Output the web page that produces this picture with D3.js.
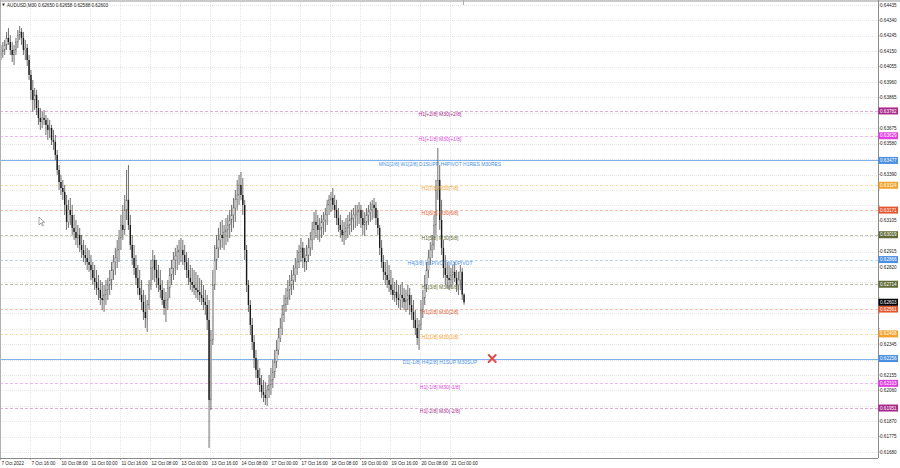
<!DOCTYPE html>
<html><head><meta charset="utf-8">
<script src="https://cdn.jsdelivr.net/npm/d3@7"></script>
<style>html,body{margin:0;padding:0;background:#fff;overflow:hidden}</style>
</head><body><svg id="c" width="900" height="468"></svg>
<script>
// ---------------- DATA ----------------
const symbolTitle = "AUDUSD,M30  0.62650 0.62658 0.62588 0.62603";
const firstOpen = 0.64127;
// hourly candles (2 x M30 bars each), 7 Oct 2022 .. 21 Oct 2022
const highs = [
.64189,.64207,.64219,.64269,.64293,.64250,.64207,.64189,.64232,.64281,.64306,.64293,.64269,.64219,.64195,.64127,.64035,.63973,.63924,.63911,.63850,.63800,.63776,.63788,
.63757,.63739,.63726,.63696,.63665,.63634,.63542,.63449,.63388,.63357,.63326,.63264,.63234,.63246,.63203,.63141,.63110,.63079,.63061,.63018,.62987,.62956,.62938,.62925,
.62894,.62851,.62833,.62802,.62771,.62740,.62728,.62710,.62740,.62753,.62802,.62851,.62894,.62938,.62987,.63049,.63141,.63203,.63264,.63418,.63449,.63141,.63018,.62956,
.62894,.62833,.62802,.62740,.62679,.62648,.62617,.62740,.62864,.62925,.62894,.62864,.62833,.62802,.62740,.62691,.62666,.62740,.62814,.62864,.62913,.62938,.62956,.62987,
.62999,.62987,.62956,.62913,.62876,.62833,.62814,.62802,.62790,.62771,.62753,.62740,.62710,.62679,.62648,.62617,.62432,.62802,.62956,.63018,.63061,.63098,.63110,.63079,
.63122,.63141,.63172,.63203,.63246,.63295,.63357,.63388,.63406,.63369,.63234,.62956,.62740,.62617,.62506,.62401,.62309,.62247,.62198,.62155,.62124,.62112,.62093,.62155,
.62198,.62247,.62309,.62370,.62444,.62506,.62586,.62648,.62691,.62740,.62771,.62802,.62833,.62876,.62925,.62956,.62999,.62975,.62938,.62956,.62999,.63036,.63098,.63159,
.63172,.63141,.63122,.63141,.63159,.63184,.63234,.63264,.63283,.63307,.63264,.63234,.63184,.63141,.63110,.63098,.63122,.63141,.63159,.63172,.63184,.63203,.63203,.63221,
.63203,.63172,.63159,.63184,.63203,.63221,.63234,.63246,.63221,.63172,.63079,.62987,.62894,.62851,.62864,.62833,.62802,.62753,.62728,.62740,.62710,.62710,.62728,.62691,
.62679,.62710,.62691,.62648,.62617,.62555,.62506,.62494,.62617,.62679,.62771,.62851,.62925,.62975,.63018,.63141,.63357,.63554,.63449,.63234,.62987,.62894,.62851,.62833,
.62814,.62833,.62851,.62802,.62790,.62833,.62814,.62658];
const lows = [
.64096,.64109,.64127,.64158,.64189,.64127,.64084,.64065,.64127,.64170,.64219,.64189,.64127,.64096,.64059,.63973,.63850,.63776,.63788,.63757,.63696,.63665,.63677,.63696,
.63634,.63603,.63616,.63572,.63542,.63480,.63388,.63295,.63264,.63234,.63141,.63049,.63061,.63079,.63018,.62987,.62956,.62938,.62913,.62876,.62851,.62833,.62802,.62790,
.62740,.62710,.62679,.62648,.62617,.62586,.62555,.62543,.62586,.62617,.62648,.62679,.62740,.62771,.62814,.62851,.62925,.62987,.63018,.63110,.63049,.62925,.62833,.62771,
.62710,.62648,.62617,.62555,.62494,.62444,.62420,.62555,.62679,.62740,.62728,.62691,.62666,.62629,.62586,.62525,.62481,.62555,.62629,.62710,.62740,.62771,.62802,.62833,
.62851,.62833,.62802,.62753,.62710,.62679,.62666,.62648,.62629,.62617,.62605,.62586,.62555,.62525,.62432,.61705,.61939,.62340,.62679,.62802,.62876,.62925,.62938,.62925,
.62956,.62975,.62999,.63036,.63061,.63098,.63172,.63203,.63234,.63141,.62864,.62666,.62543,.62401,.62309,.62198,.62136,.62093,.62050,.62013,.61988,.61970,.61964,.62013,
.62032,.62074,.62136,.62198,.62278,.62358,.62401,.62481,.62543,.62586,.62617,.62648,.62679,.62728,.62771,.62814,.62851,.62814,.62790,.62802,.62851,.62888,.62925,.62987,
.62999,.62987,.62975,.62999,.63018,.63036,.63079,.63141,.63159,.63172,.63122,.63079,.63036,.62999,.62975,.62956,.62987,.62999,.63018,.63036,.63049,.63061,.63073,.63085,
.63061,.63018,.63011,.63049,.63079,.63098,.63110,.63122,.63079,.63018,.62894,.62814,.62740,.62710,.62691,.62666,.62648,.62617,.62605,.62586,.62568,.62555,.62568,.62555,
.62543,.62555,.62525,.62494,.62444,.62401,.62340,.62309,.62432,.62506,.62586,.62666,.62753,.62833,.62876,.62925,.63018,.63234,.63049,.62894,.62753,.62710,.62691,.62679,
.62691,.62710,.62728,.62666,.62648,.62679,.62617,.62588];
const closes = [
.64146,.64158,.64189,.64232,.64207,.64158,.64127,.64158,.64207,.64250,.64269,.64232,.64158,.64170,.64096,.64004,.63911,.63850,.63881,.63800,.63739,.63714,.63739,.63726,
.63696,.63665,.63677,.63603,.63591,.63511,.63418,.63344,.63307,.63283,.63203,.63098,.63172,.63141,.63061,.63036,.62999,.63018,.62956,.62925,.62894,.62876,.62851,.62833,
.62802,.62753,.62728,.62691,.62679,.62629,.62617,.62648,.62679,.62710,.62740,.62802,.62851,.62876,.62925,.62999,.63079,.63049,.63172,.63234,.63079,.62956,.62876,.62814,
.62753,.62691,.62648,.62605,.62543,.62506,.62586,.62710,.62814,.62864,.62802,.62753,.62710,.62679,.62617,.62568,.62617,.62691,.62771,.62814,.62864,.62888,.62913,.62925,
.62925,.62894,.62851,.62802,.62753,.62728,.62710,.62691,.62679,.62666,.62648,.62629,.62605,.62586,.62494,.62001,.62370,.62710,.62864,.62938,.62987,.63018,.62999,.63036,
.63049,.63079,.63110,.63141,.63184,.63234,.63264,.63326,.63264,.63203,.62925,.62710,.62586,.62463,.62358,.62260,.62186,.62136,.62093,.62050,.62032,.62013,.62062,.62093,
.62124,.62173,.62235,.62309,.62383,.62444,.62525,.62586,.62629,.62679,.62710,.62740,.62771,.62814,.62851,.62913,.62938,.62876,.62851,.62894,.62938,.62987,.63049,.63098,
.63079,.63049,.63061,.63098,.63110,.63141,.63203,.63234,.63246,.63203,.63172,.63122,.63079,.63049,.63018,.63036,.63061,.63079,.63110,.63122,.63141,.63141,.63159,.63172,
.63122,.63079,.63098,.63141,.63159,.63172,.63203,.63184,.63122,.63061,.62938,.62851,.62790,.62771,.62740,.62710,.62679,.62648,.62666,.62629,.62617,.62648,.62629,.62605,
.62617,.62648,.62586,.62543,.62494,.62444,.62383,.62463,.62555,.62629,.62710,.62802,.62876,.62925,.62956,.63079,.63295,.63357,.63110,.62938,.62814,.62771,.62753,.62740,
.62771,.62790,.62753,.62710,.62740,.62790,.62650,.62603];

const timeLabels = ["7 Oct 2022","7 Oct 16:00","10 Oct 08:00","11 Oct 00:00","11 Oct 16:00","12 Oct 08:00",
  "13 Oct 00:00","13 Oct 16:00","14 Oct 08:00","17 Oct 00:00","17 Oct 16:00","18 Oct 08:00",
  "19 Oct 00:00","19 Oct 16:00","20 Oct 08:00","21 Oct 00:00"];
const timeLabelBars = [0,32,64,96,128,160,192,224,256,288,320,352,384,416,448,480]; // M30 bar index

const priceTicks = ["0.64435","0.64340","0.64245","0.64150","0.64055","0.63960","0.63865","0.63770","0.63675",
  "0.63580","0.63485","0.63390","0.63295","0.63200","0.63105","0.63010","0.62915","0.62820","0.62725","0.62630",
  "0.62535","0.62440","0.62345","0.62250","0.62155","0.62060","0.61965","0.61870","0.61775","0.61680"];

const levelValues = [0.63782,0.63629,0.63477,0.63324,0.63171,0.63019,0.62866,0.62714,0.62561,0.62408,0.62256,0.62103,0.61951];
const levelNames = ["H1[+2/8] M30[+2/8]","H1[+1/8] M30[+1/8]","MN1[2/8] W1[2/8] D1SUPP H4PIVOT H1RES M30RES",
  "H1[7/8] M30[7/8]","H1[6/8] M30[6/8]","H1[5/8] M30[5/8]","H4[3/8] H1PIVOT M30PIVOT","H1[3/8] M30[3/8]",
  "H1[2/8] M30[2/8]","H1[1/8] M30[1/8]","D1[-1/8] H4[2/8] H1SUP M30SUP","H1[-1/8] M30[-1/8]","H1[-2/8] M30[-2/8]"];
const lastPrice = 0.62603;
const markerBar = 525, markerPrice = 0.62256;

// ---------------- STYLE ----------------
const levelColors = ["#a8288c","#e040e0","#4a90e2","#f2a22a","#e4572e","#5f6b34","#4a90e2","#5f6b34","#e4572e","#f2a22a","#4a90e2","#e040e0","#a8288c"];
const levelDash = [ "3,2","3,2",null,"3,2","3,2","3,2","3,2","3,2","3,2","3,2",null,"3,2","3,2"];

const W = 900, H = 468, plotR = 878, plotB = 458;
const svg = d3.select("#c");
const x = d3.scaleLinear().domain([0, 960]).range([0, 900]);
const y = d3.scaleLinear().domain([0.61680, 0.64435]).range([452, 5]);

svg.append("rect").attr("width", W).attr("height", H).attr("fill", "#fff");

// grid
const grid = svg.append("g").attr("shape-rendering", "crispEdges");
grid.selectAll("line.h").data(priceTicks).join("line")
  .attr("x1", 0).attr("x2", plotR).attr("y1", d => Math.round(y(+d)) + 0.5).attr("y2", d => Math.round(y(+d)) + 0.5)
  .attr("stroke", "#e6e6e6").attr("stroke-dasharray", "1,1");
grid.selectAll("line.v").data(timeLabelBars).join("line")
  .attr("y1", 0).attr("y2", plotB).attr("x1", d => Math.round(x(d)) + 0.5).attr("x2", d => Math.round(x(d)) + 0.5)
  .attr("stroke", "#e6e6e6").attr("stroke-dasharray", "1,1");

// level lines
const lv = svg.append("g");
levelValues.forEach((v, i) => {
  lv.append("line").attr("x1", 0).attr("x2", plotR)
    .attr("y1", Math.round(y(v)) + 0.5).attr("y2", Math.round(y(v)) + 0.5)
    .attr("stroke", levelColors[i]).attr("stroke-width", 1)
    .attr("stroke-opacity", levelDash[i] ? 0.38 : 0.7)
    .attr("stroke-dasharray", levelDash[i]).attr("shape-rendering", "crispEdges");
});

// candles
const bars = d3.range(highs.length).map(i => ({
  i, o: i === 0 ? firstOpen : closes[i - 1], h: highs[i], l: lows[i], c: closes[i]
}));
const cg = svg.append("g");
cg.selectAll("line").data(bars).join("line")
  .attr("x1", d => x(2 * d.i + 1)).attr("x2", d => x(2 * d.i + 1))
  .attr("y1", d => y(d.h)).attr("y2", d => y(d.l))
  .attr("stroke", "#555").attr("stroke-width", 0.85);
cg.selectAll("rect").data(bars).join("rect")
  .attr("x", d => x(2 * d.i + 1) - 0.7).attr("width", 1.4)
  .attr("y", d => y(Math.max(d.o, d.c)))
  .attr("height", d => Math.max(0.6, Math.abs(y(d.o) - y(d.c))))
  .attr("fill", d => d.c >= d.o ? "#d0d0d0" : "#1a1a1a")
  .attr("stroke", d => d.c >= d.o ? "#666" : "none").attr("stroke-width", 0.3);

// level labels
levelValues.forEach((v, i) => {
  svg.append("text").attr("x", 440).attr("y", y(v) + 5.2)
    .attr("text-anchor", "middle").attr("font-family", "Liberation Sans, Arial, sans-serif")
    .attr("font-size", 5).attr("fill", levelColors[i]).text(levelNames[i]);
});

// red X marker
const mx = x(markerBar), my = y(markerPrice);
svg.append("path").attr("d", `M${mx-3.5},${my-3.5}L${mx+3.5},${my+3.5}M${mx+3.5},${my-3.5}L${mx-3.5},${my+3.5}`)
  .attr("stroke", "#e24a4a").attr("stroke-width", 2).attr("stroke-linecap", "round");

// frame
svg.append("rect").attr("x", 0).attr("y", 0).attr("width", W).attr("height", 2).attr("fill", "#c9c9c9");
svg.append("line").attr("x1", plotR + 0.5).attr("x2", plotR + 0.5).attr("y1", 0).attr("y2", plotB)
  .attr("stroke", "#8a8a8a").attr("shape-rendering", "crispEdges");
svg.append("line").attr("x1", 0).attr("x2", plotR).attr("y1", plotB + 0.5).attr("y2", plotB + 0.5)
  .attr("stroke", "#8a8a8a").attr("shape-rendering", "crispEdges");
svg.append("line").attr("x1", 0.5).attr("x2", 0.5).attr("y1", 0).attr("y2", plotB)
  .attr("stroke", "#b0b0b0").attr("shape-rendering", "crispEdges");
svg.append("line").attr("x1", x(494) + 0.5).attr("x2", x(494) + 0.5).attr("y1", 0).attr("y2", 5)
  .attr("stroke", "#b0b0b0").attr("shape-rendering", "crispEdges");

// tags (level values + last price)
const tags = levelValues.map((v, i) => ({ v, col: levelColors[i] })).concat([{ v: lastPrice, col: "#000" }]);

// price axis (tick labels hidden under a tag are not drawn, as on the reference)
const visibleTicks = priceTicks.filter(d => tags.every(t => Math.abs(y(t.v) - y(+d)) > 5.5));
const ax = svg.append("g").attr("font-family", "Liberation Sans, Arial, sans-serif").attr("font-size", 4.6).attr("fill", "#222");
ax.selectAll("text").data(visibleTicks).join("text")
  .attr("x", plotR + 2).attr("y", d => y(+d) + 1.6).text(d => d);
ax.selectAll("line").data(priceTicks).join("line")
  .attr("x1", plotR).attr("x2", plotR + 2).attr("y1", d => y(+d)).attr("y2", d => y(+d)).attr("stroke", "#888").attr("stroke-width", 0.6);

const tg = svg.append("g").attr("font-family", "Liberation Sans, Arial, sans-serif").attr("font-size", 4.6);
tags.forEach(t => {
  const ty = y(t.v);
  tg.append("rect").attr("x", plotR + 0.5).attr("y", ty - 3.5).attr("width", 19.5).attr("height", 7).attr("fill", t.col);
  tg.append("text").attr("x", plotR + 2).attr("y", ty + 1.6).attr("fill", "#fff").text(t.v.toFixed(5));
});

// time axis
const tx = svg.append("g").attr("font-family", "Liberation Sans, Arial, sans-serif").attr("font-size", 4.6).attr("fill", "#222");
timeLabelBars.forEach((b, i) => {
  const px = x(b);
  tx.append("line").attr("x1", px + 0.5).attr("x2", px + 0.5).attr("y1", plotB).attr("y2", plotB + 2).attr("stroke", "#888").attr("stroke-width", 0.6);
  tx.append("text").attr("x", px + 1.5).attr("y", 465).text(timeLabels[i]);
});

// title
svg.append("path").attr("d", "M2,3.5L5,3.5L3.5,6Z").attr("fill", "#333");
svg.append("text").attr("x", 7).attr("y", 6.8).attr("font-family", "Liberation Sans, Arial, sans-serif")
  .attr("font-size", 4.6).attr("fill", "#222").text(symbolTitle);

// mouse cursor
svg.append("path").attr("d", "M39,217 L39,225 L41,223 L42.5,226 L43.5,225.5 L42,222.5 L44.5,222.5 Z")
  .attr("fill", "#fff").attr("stroke", "#555").attr("stroke-width", 0.5);
</script></body></html>
